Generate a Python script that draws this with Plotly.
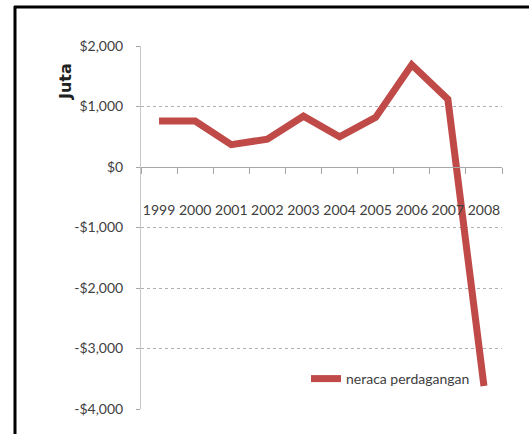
import plotly.graph_objects as go

years = ["1999", "2000", "2001", "2002", "2003", "2004", "2005", "2006", "2007", "2008"]
neraca = [760, 760, 370, 460, 840, 500, 820, 1690, 1120, -3620]
y_ticks = [2000, 1000, 0, -1000, -2000, -3000, -4000]
y_labels = ["$2,000", "$1,000", "$0", "-$1,000", "-$2,000", "-$3,000", "-$4,000"]

FONT = "Lato, Liberation Sans, sans-serif"
RED = "#BF4A47"

fig = go.Figure()
fig.add_trace(go.Scatter(
    x=years, y=neraca, mode="lines", name="neraca perdagangan",
    line=dict(color=RED, width=7),
))

W, H = 529, 434
L, R, T, B = 141, 27, 46, 25
pw = W - L - R
ph = H - T - B
ymin, ymax = -4000, 2000
zero_pos = (0 - ymin) / (ymax - ymin)

def px_x(p):
    return (p - L) / pw

def px_y(p):
    return 1 - (p - T) / ph

fig.update_layout(
    width=W, height=H,
    margin=dict(l=L, r=R, t=T, b=B, autoexpand=False),
    paper_bgcolor="white", plot_bgcolor="white",
    font=dict(family=FONT, size=14, color="#404040"),
    showlegend=True,
    legend=dict(x=px_x(306), y=px_y(363), xanchor="left", yanchor="top",
                bgcolor="rgba(0,0,0,0)", font=dict(size=14, color="#404040"),
                itemwidth=30, borderwidth=0),
    xaxis=dict(
        type="category", anchor="free", position=zero_pos,
        range=[-0.5, len(years) - 0.5], automargin=False,
        showline=True, linecolor="#A6A6A6", linewidth=1,
        ticks="outside", tickson="boundaries", ticklen=6, tickcolor="#A6A6A6",
        ticklabelstandoff=30, showgrid=False, zeroline=False, tickangle=0,
        tickfont=dict(size=14, color="#404040"),
    ),
    yaxis=dict(
        range=[ymin, ymax], tickvals=y_ticks, ticktext=y_labels, automargin=False,
        showgrid=True, gridcolor="#B0B0B0", griddash="dot", gridwidth=1,
        zeroline=False, showline=True, linecolor="#C8C8C8", linewidth=1,
        ticks="outside", ticklen=4, tickcolor="#A6A6A6", ticklabelstandoff=10,
        tickfont=dict(size=14, color="#404040"),
    ),
    annotations=[dict(
        text="<b>Juta</b>", textangle=-90, xref="paper", yref="paper",
        x=px_x(65), y=px_y(82), xanchor="center", yanchor="middle", showarrow=False,
        font=dict(size=16, color="#202020", family="DejaVu Sans, sans-serif"),
    )],
    shapes=[
        dict(type="line", xref="paper", yref="paper",
             x0=px_x(15), x1=px_x(15), y0=px_y(6), y1=px_y(440),
             line=dict(color="black", width=3)),
        dict(type="line", xref="paper", yref="paper",
             x0=px_x(14), x1=px_x(535), y0=px_y(7), y1=px_y(7),
             line=dict(color="black", width=3)),
    ],
)

fig.write_html("out.html", config={"displayModeBar": False},
               post_script="document.body.style.margin='0px';")
